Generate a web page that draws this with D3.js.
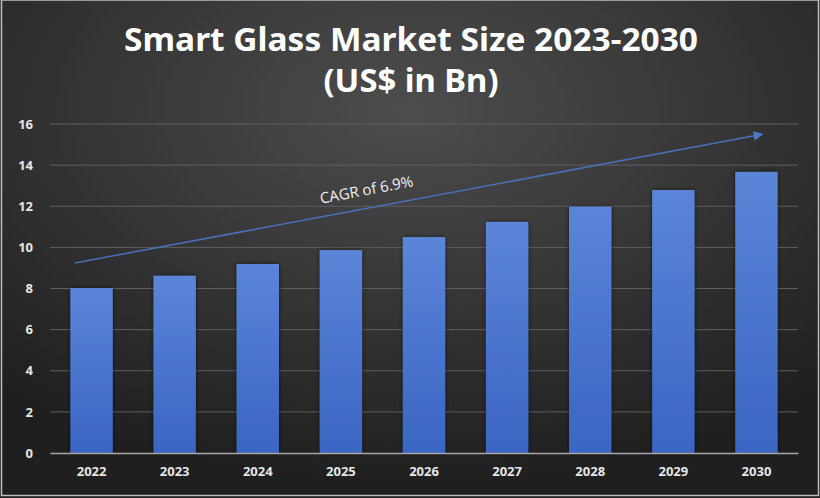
<!DOCTYPE html>
<html>
<head>
<meta charset="utf-8">
<script src="https://cdn.jsdelivr.net/npm/d3@7"></script>
<style>
  html, body { margin: 0; padding: 0; background: #2a2a2a; }
  svg { display: block; }
</style>
</head>
<body>
<div id="chart-container"></div>
<script>
const years = ["2022", "2023", "2024", "2025", "2026", "2027", "2028", "2029", "2030"];
const marketSize = [8.02, 8.62, 9.19, 9.87, 10.5, 11.24, 11.98, 12.79, 13.67];
const yTicks = [0, 2, 4, 6, 8, 10, 12, 14, 16];
const titleLines = ["Smart Glass Market Size 2023-2030", "(US$ in Bn)"];
const cagrLabel = "CAGR of 6.9%";
// trend arrow, in category-index units and values
const arrowIdx = [-0.2, 8.07];
const arrowVal = [9.24, 15.5];

const W = 820, H = 498;
const margin = { top: 124, right: 22, bottom: 45, left: 50 };
const width = W - margin.left - margin.right;
const height = H - margin.top - margin.bottom;

const svg = d3.select("#chart-container").append("svg")
  .attr("width", W).attr("height", H);

const defs = svg.append("defs");
const bg = defs.append("radialGradient").attr("id", "bg")
  .attr("cx", "50%").attr("cy", "22%").attr("r", "75%");
bg.append("stop").attr("offset", "0%").attr("stop-color", "#4d4d4d");
bg.append("stop").attr("offset", "100%").attr("stop-color", "#1f1f1f");

const barGrad = defs.append("linearGradient").attr("id", "bar")
  .attr("x1", 0).attr("y1", 0).attr("x2", 0).attr("y2", 1);
barGrad.append("stop").attr("offset", "0%").attr("stop-color", "#5b85d8");
barGrad.append("stop").attr("offset", "100%").attr("stop-color", "#3a65c2");

defs.append("filter").attr("id", "shadow")
  .attr("x", "-20%").attr("y", "-20%").attr("width", "140%").attr("height", "140%")
  .append("feDropShadow").attr("dx", 0).attr("dy", 0).attr("stdDeviation", 2)
  .attr("flood-color", "#000").attr("flood-opacity", 0.6);

defs.append("marker").attr("id", "arrowhead")
  .attr("viewBox", "0 0 10 10").attr("refX", 9).attr("refY", 5)
  .attr("markerWidth", 6).attr("markerHeight", 6).attr("orient", "auto")
  .append("path").attr("d", "M0,0 L10,5 L0,10 Z").attr("fill", "#4f78c9");

svg.append("rect").attr("width", W).attr("height", H).attr("fill", "url(#bg)");
svg.append("rect").attr("x", 1.5).attr("y", 0).attr("width", W - 3).attr("height", H - 2.5)
  .attr("fill", "none").attr("stroke", "#bdbdbd").attr("stroke-width", 1.5);

// title
svg.selectAll(".title").data(titleLines).join("text")
  .attr("class", "title")
  .attr("x", W / 2 + 1)
  .attr("y", (d, i) => 51 + i * 41)
  .attr("text-anchor", "middle")
  .attr("fill", "#ffffff")
  .style("font-family", "'Liberation Sans Narrow', 'Noto Sans', sans-serif")
  .style("font-weight", "bold")
  .style("font-size", "32px")
  .attr("textLength", (d, i) => i === 0 ? 574 : 175)
  .attr("lengthAdjust", "spacingAndGlyphs")
  .text((d) => d);

const g = svg.append("g").attr("transform", `translate(${margin.left}, ${margin.top})`);

const x = d3.scaleBand().domain(years).range([0, width]).paddingInner(0.49).paddingOuter(0.245);
const y = d3.scaleLinear().domain([0, 16]).range([height, 0]);
const xi = (i) => x(years[0]) + x.bandwidth() / 2 + i * x.step();

// horizontal grid
g.selectAll(".grid").data(yTicks.slice(1)).join("line")
  .attr("x1", 0).attr("x2", width)
  .attr("y1", (d) => y(d)).attr("y2", (d) => y(d))
  .attr("stroke", "#5e5e5e").attr("stroke-width", 1);

// y axis labels
g.append("g")
  .call(d3.axisLeft(y).tickValues(yTicks).tickSize(0).tickPadding(17))
  .call((a) => a.select(".domain").remove())
  .selectAll("text")
  .attr("fill", "#e6e6e6")
  .style("font-family", "'Open Sans', sans-serif")
  .style("font-weight", "bold")
  .style("font-size", "13px");

// bars
g.selectAll(".bar").data(marketSize).join("rect")
  .attr("class", "bar")
  .attr("x", (d, i) => x(years[i]))
  .attr("y", (d) => y(d))
  .attr("width", x.bandwidth())
  .attr("height", (d) => y(0) - y(d))
  .attr("fill", "url(#bar)")
  .attr("filter", "url(#shadow)");

// x axis
g.append("g")
  .attr("transform", `translate(0, ${height})`)
  .call(d3.axisBottom(x).tickSize(0).tickPadding(14))
  .call((a) => a.select(".domain").attr("stroke", "#a6a6a6").attr("stroke-width", 1.5))
  .selectAll("text")
  .attr("fill", "#e6e6e6")
  .style("font-family", "'Open Sans', sans-serif")
  .style("font-weight", "bold")
  .style("font-size", "13px");

// trend arrow
const x1 = xi(arrowIdx[0]), y1 = y(arrowVal[0]);
const x2 = xi(arrowIdx[1]), y2 = y(arrowVal[1]);
g.append("line")
  .attr("x1", x1).attr("y1", y1).attr("x2", x2).attr("y2", y2)
  .attr("stroke", "#4a6fb8").attr("stroke-width", 1.6)
  .attr("marker-end", "url(#arrowhead)");

// CAGR label
const angle = Math.atan2(y2 - y1, x2 - x1) * 180 / Math.PI;
const lx = xi(3.32), ly = y(12.55);
g.append("text")
  .attr("transform", `translate(${lx}, ${ly}) rotate(${angle})`)
  .attr("text-anchor", "middle")
  .attr("fill", "#f2f2f2")
  .style("font-family", "'Open Sans', sans-serif")
  .style("font-size", "15px")
  .text(cagrLabel);
</script>
</body>
</html>
